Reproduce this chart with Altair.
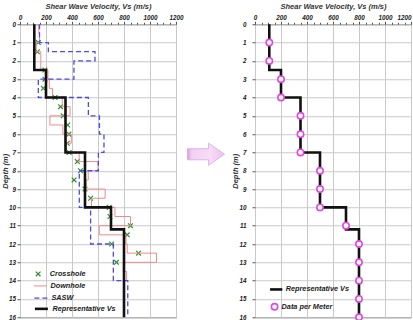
import altair as alt
import pandas as pd

# ---------------- data ----------------
# Representative Vs profile: layer top / bottom depth (m) and velocity (m/s)
rep_top = [0, 2.5, 4, 7, 10, 11.2]
rep_bot = [2.5, 4, 7, 10, 11.2, 16]
rep_vs = [110, 200, 350, 500, 700, 800]

# SASW profile
sasw_top = [0, 1, 1.5, 2, 3, 4, 5, 6, 7, 8, 10, 12, 14]
sasw_bot = [1, 1.5, 2, 3, 4, 5, 6, 7, 8, 10, 12, 14, 16]
sasw_vs = [150, 218, 577, 415, 141, 526, 611, 646, 603, 456, 543, 718, 829]

# Downhole profile, 0.5 m intervals
down_top = [0, 0.5, 1, 1.5, 2, 2.5, 3, 3.5, 4, 4.5, 5, 5.5, 6, 6.5,
            7, 7.5, 8, 8.5, 9, 9.5, 10, 10.5, 11, 11.5, 12, 12.5, 13, 13.5]
down_bot = [0.5, 1, 1.5, 2, 2.5, 3, 3.5, 4, 4.5, 5, 5.5, 6, 6.5, 7,
            7.5, 8, 8.5, 9, 9.5, 10, 10.5, 11, 11.5, 12, 12.5, 13, 13.5, 14]
down_vs = [145, 150, 125, 160, 160, 215, 225, 250, 325, 385, 230, 330, 395, 355,
           455, 600, 525, 510, 655, 550, 730, 850, 610, 815, 825, 1050, 795, 820]

# Crosshole measurements
cross_depth = [1, 1.5, 2.5, 3, 3.5, 4, 4.5, 5, 5.5, 6, 6.5, 7, 7.5, 8,
               8.5, 9, 9.5, 10, 10.5, 11, 11.5, 12, 12.5, 13]
cross_vs = [141, 134, 192, 192, 180, 270, 312, 332, 367, 376, 364, 378, 441, 465,
            416, 500, 543, 686, 692, 850, 825, 705, 912, 742]

# Representative Vs sampled every metre
meter_depth = [1, 2, 3, 4, 5, 6, 7, 8, 9, 10, 11, 12, 13, 14, 15, 16]
meter_vs = [110, 110, 200, 200, 350, 350, 350, 500, 500, 500, 700, 800, 800, 800, 800, 800]

# tick positions
vs_ticks = [0, 50, 100, 150, 200, 250, 300, 350, 400, 450, 500, 550, 600, 650,
            700, 750, 800, 850, 900, 950, 1000, 1050, 1100, 1150, 1200]
depth_ticks = [0, 0.5, 1, 1.5, 2, 2.5, 3, 3.5, 4, 4.5, 5, 5.5, 6, 6.5, 7, 7.5, 8,
               8.5, 9, 9.5, 10, 10.5, 11, 11.5, 12, 12.5, 13, 13.5, 14, 14.5, 15,
               15.5, 16]


def step_table(tops, bots, vs, name):
    rows = []
    k = 0
    for t, b, v in zip(tops, bots, vs):
        rows.append({"series": name, "vs": v, "depth": t, "k": k})
        rows.append({"series": name, "vs": v, "depth": b, "k": k + 1})
        k += 2
    return pd.DataFrame(rows)


rep_df = step_table(rep_top, rep_bot, rep_vs, "Representative Vs")
sasw_df = step_table(sasw_top, sasw_bot, sasw_vs, "SASW")
down_df = step_table(down_top, down_bot, down_vs, "Downhole")
cross_df = pd.DataFrame({"series": "Crosshole", "vs": cross_vs, "depth": cross_depth})
meter_df = pd.DataFrame({"series": "Data per Meter", "vs": meter_vs, "depth": meter_depth})

# ---------------- styling ----------------
FONT = "Liberation Sans"
W, H = 156, 293
X_SHAPE = "M-1,-1L1,1M-1,1L1,-1"
ARROW = "M-1,-0.3L0.14,-0.3L0.14,-0.6L1,0L0.14,0.6L0.14,0.3L-1,0.3Z"


def encodings(label_pad, title_x, flush_last):
    x_axis = alt.Axis(
        orient="top",
        title="Shear Wave Velocity, Vs (m/s)",
        titleY=-18, titleBaseline="middle",
        values=vs_ticks, format="d",
        labelExpr="datum.value % 200 === 0 ? datum.label : ''",
        gridOpacity={"condition": {"test": "datum.value % 200 === 0", "value": 1}, "value": 0},
        tickSize={"condition": {"test": "datum.value % 200 === 0", "value": 3}, "value": 2},
        labelAlign={"condition": {"test": "datum.value === 1200", "value": "right" if flush_last else "center"},
                    "value": "center"},
        labelFlush=False, labelOverlap=False, labelPadding=1,
        domain=False,
    )
    y_axis = alt.Axis(
        title="Depth (m)",
        titleX=title_x, titleBaseline="middle",
        values=depth_ticks, format="d",
        labelExpr="datum.value % 1 === 0 ? datum.label : ''",
        gridOpacity={"condition": {"test": "datum.value % 1 === 0", "value": 1}, "value": 0},
        tickSize={"condition": {"test": "datum.value % 1 === 0", "value": 3}, "value": 2},
        labelFlush=False, labelOverlap=False, labelPadding=label_pad,
        domain=False,
    )
    x = alt.X("vs:Q", scale=alt.Scale(domain=[0, 1200], nice=False, zero=False), axis=x_axis)
    y = alt.Y("depth:Q", scale=alt.Scale(domain=[0, 16], reverse=True, nice=False), axis=y_axis)
    return x, y


def legend(x, y, **kw):
    return alt.Legend(title=None, orient="none", legendX=x, legendY=y, padding=0,
                      labelFont=FONT, labelFontSize=7.3, labelFontWeight="bold",
                      labelFontStyle="italic", labelColor="#1a1a1a", **kw)


def color(name, col, leg):
    return alt.Color("series:N", scale=alt.Scale(domain=[name], range=[col]), legend=leg)


# ---------------- left panel: all methods ----------------
XL, YL = encodings(1.5, -14.8, False)

cross = alt.Chart(cross_df).mark_point(
    shape=X_SHAPE, filled=False, size=22, strokeWidth=1.2, opacity=1
).encode(
    x=XL, y=YL,
    color=color("Crosshole", "#2f8f2f",
                legend(14.5, 246, symbolType=X_SHAPE, symbolSize=22,
                       symbolStrokeWidth=1.2, labelOffset=8)),
)
down = alt.Chart(down_df).mark_line(strokeWidth=1).encode(
    x=XL, y=YL, order="k:Q",
    color=color("Downhole", "#f08a8a",
                legend(13.4, 254.7, symbolType="stroke", symbolSize=169,
                       symbolStrokeWidth=1, labelOffset=3)),
)
sasw = alt.Chart(sasw_df).mark_line(strokeWidth=1.3, strokeDash=[5, 3]).encode(
    x=XL, y=YL, order="k:Q",
    color=color("SASW", "#4b4be6",
                legend(13.4, 266.4, symbolType="stroke", symbolSize=169,
                       symbolStrokeWidth=1.3, symbolDash=[5, 3], labelOffset=3)),
)
rep_left = alt.Chart(rep_df).mark_line(strokeWidth=2.6).encode(
    x=XL, y=YL, order="k:Q",
    color=color("Representative Vs", "#111111",
                legend(13.4, 276.6, symbolType="stroke", symbolSize=169,
                       symbolStrokeWidth=2.6, labelOffset=3)),
)
left = alt.layer(cross, down, sasw, rep_left).resolve_scale(color="independent").properties(
    width=W, height=H, view=alt.ViewBackground(stroke="#555555", strokeWidth=1)
)

# ---------------- middle: arrow ----------------
arrow = alt.Chart(alt.Data(values=[{"a": 1}])).mark_point(
    shape=ARROW, size=1369, filled=True, opacity=1,
    fill=alt.LinearGradient(
        gradient="linear", x1=0, x2=1, y1=0, y2=0,
        stops=[alt.GradientStop(offset=0, color="#cf9fd8"),
               alt.GradientStop(offset=0.07, color="#e9c0ec"),
               alt.GradientStop(offset=0.12, color="#f3d0f3"),
               alt.GradientStop(offset=0.6, color="#f7dcf7"),
               alt.GradientStop(offset=1, color="#eec2ee")]),
    stroke="#d3a8dc", strokeWidth=0.8,
).encode(x=alt.value(10), y=alt.value(130)).properties(
    width=38.5, height=H, view=alt.ViewBackground(strokeOpacity=0)
)

# ---------------- right panel: representative profile ----------------
XR, YR = encodings(6, -19.5, True)

rep_right = alt.Chart(rep_df).mark_line(strokeWidth=2.6).encode(
    x=XR, y=YR, order="k:Q",
    color=color("Representative Vs", "#111111",
                legend(13.7, 257.7, symbolType="stroke", symbolSize=151,
                       symbolStrokeWidth=2.6, labelOffset=2)),
)
meter = alt.Chart(meter_df).mark_point(
    shape="circle", filled=False, fill="white", size=40, strokeWidth=1.6, opacity=1
).encode(
    x=XR, y=YR,
    color=color("Data per Meter", "#e545e5",
                legend(15.6, 278.5, symbolType="circle", symbolSize=40,
                       symbolStrokeWidth=1.6, symbolFillColor="white", labelOffset=3)),
)
right = alt.layer(rep_right, meter).resolve_scale(color="independent").properties(
    width=W, height=H, view=alt.ViewBackground(stroke="#555555", strokeWidth=1)
)

chart = alt.hconcat(left, arrow, right, spacing=20, bounds="flush").configure(
    padding={"left": 0, "top": 1.25, "right": 0, "bottom": 0},
    background="white",
).configure_axis(
    labelFont=FONT, labelFontSize=6.3, labelFontWeight="bold", labelFontStyle="italic",
    labelColor="#222222",
    titleFont=FONT, titleFontSize=7.5, titleFontWeight="bold", titleFontStyle="italic",
    titleColor="#333333",
    gridColor="#c9c9c9", gridWidth=1, tickColor="#555555", tickWidth=1,
)

chart.save("out.html", embed_options={"renderer": "svg", "actions": False})
